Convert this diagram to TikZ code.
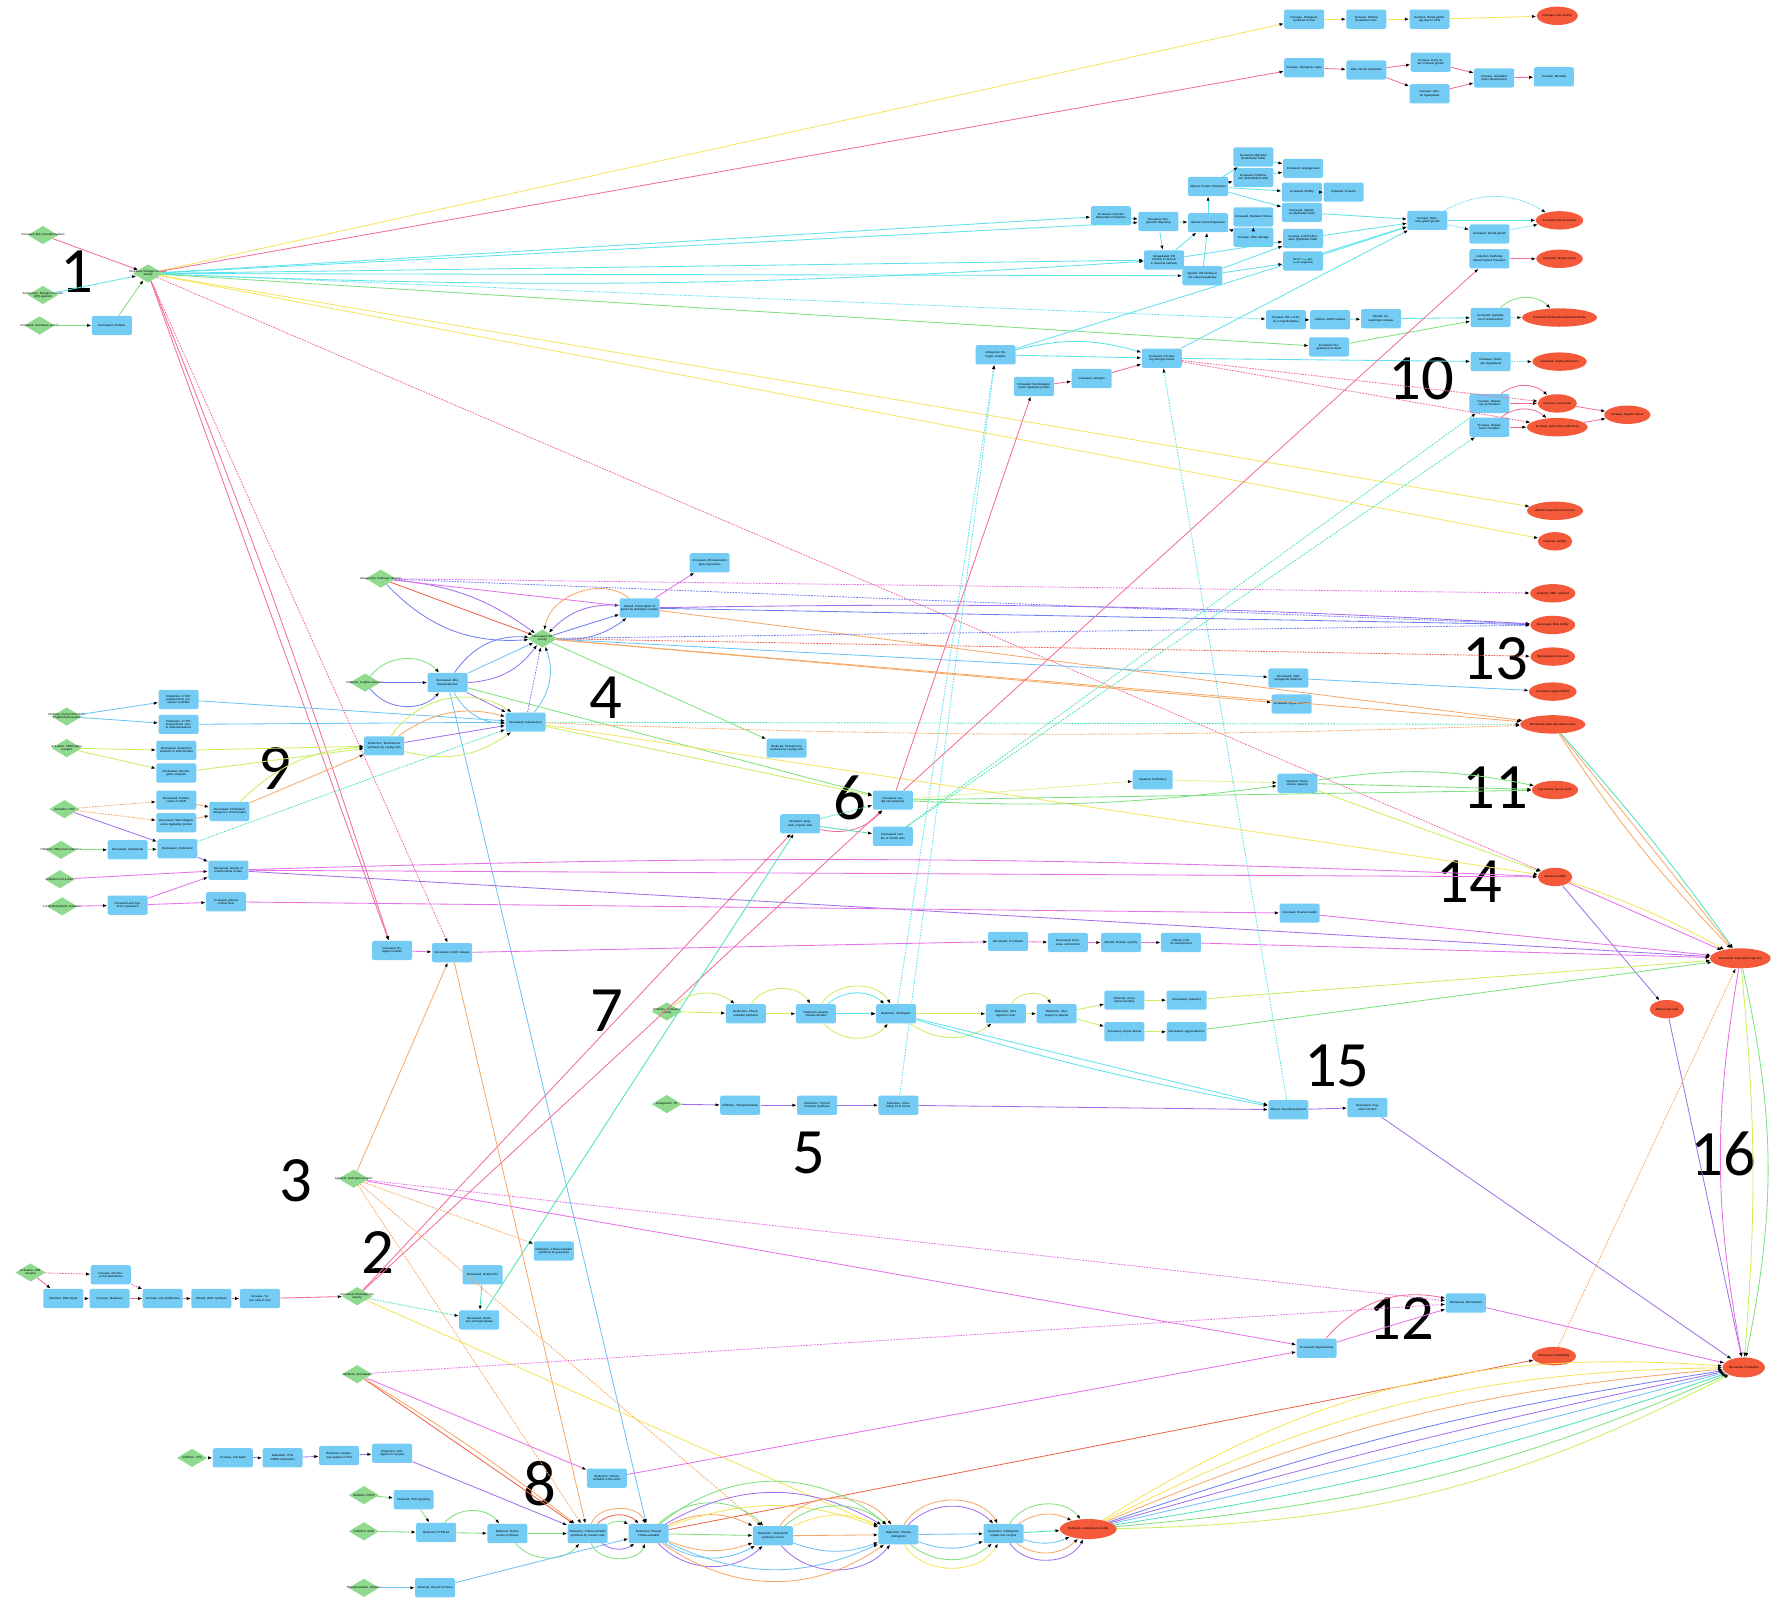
\documentclass[tikz,border=0pt]{standalone}
\usepackage{fontspec}
\setmainfont{Liberation Sans}
\newfontfamily\numfont{Carlito}
\usetikzlibrary{arrows.meta,shapes.geometric}
\usepackage{xcolor}
\definecolor{kefill}{HTML}{74CCF4}
\definecolor{miefill}{HTML}{8FDA8F}
\definecolor{aofill}{HTML}{F45A3A}
\definecolor{cy}{HTML}{5EE2EC}
\definecolor{pk}{HTML}{F26D9A}
\definecolor{ye}{HTML}{F5E45A}
\definecolor{gr}{HTML}{7FE07F}
\definecolor{mg}{HTML}{E770E8}
\definecolor{bl}{HTML}{6F7FF2}
\definecolor{pu}{HTML}{A070EC}
\definecolor{or}{HTML}{F7A866}
\definecolor{rd}{HTML}{F0644C}
\definecolor{lb}{HTML}{6CC3F7}
\definecolor{tl}{HTML}{4BE3B5}
\definecolor{yg}{HTML}{C7F060}
\newcommand{\lbl}{\fontsize{2.1}{2.4}\selectfont}
\tikzset{
  >={Latex[length=1.1mm,width=0.8mm,color=black]},
  lbl/.style={font=\lbl,align=center,inner sep=0pt},
  ke/.style={rectangle,rounded corners=0.5mm,fill=kefill,minimum width=10mm,
             minimum height=4.8mm,inner sep=0.2mm,align=center,text width=9.4mm,font=\lbl},
  mie/.style={diamond,fill=miefill,minimum width=7.6mm,minimum height=4.6mm,inner sep=0pt},
  ao/.style={ellipse,fill=aofill,minimum width=8.6mm,minimum height=4.6mm,inner sep=0pt,
             align=center,font=\lbl},
  aobig/.style={ao,minimum width=10mm,minimum height=5mm},
  rel/.style={->,line width=0.6pt},
  weak/.style={rel,dash pattern=on 1.2pt off 0.8pt},
  num/.style={font=\numfont\fontsize{46}{46}\selectfont,inner sep=0pt}
}

\begin{document}
\begin{tikzpicture}[x=0.2825mm,y=-0.2825mm]
  \useasboundingbox (0,0) rectangle (1568,1421);

  % estrogen receptor branch
  \node[mie,label={[lbl]center:Increased, Bcl-2 phosphorylation}] (m1a) at (38,208) {};
  \node[mie,label={[lbl]center:Antagonism, Estrogen receptor\\(ER) agonism}] (m1b) at (38,261) {};
  \node[mie,label={[lbl]center:Increased, Aromatase activity}] (m1c) at (35,288) {};
  \node[ke] (k1a) at (99,288) {Decreased, Proteins};
  \node[mie,label={[lbl]center:Increased, Estrogen receptor\\activity}] (k1) at (131,242) {};

  \node[ke] (kt1) at (1154,17) {Increase, Histogenic synthesis in liver};
  \node[ke] (kt2) at (1209,17) {Increase, Plasma cholesterol conc.};
  \node[ke] (kt3) at (1265,17) {Increase, Renal pathology due to CPN};
  \node[ao] (at1) at (1378,14) {Increase, Liver toxicity};

  \node[ke] (kp1) at (1154,60) {Increase, Histogenic steps};
  \node[ke] (kp2) at (1209,62) {Alter, Ductal maturation};
  \node[ke] (kp3) at (1266,55) {Increase, Early onset of breast growth};
  \node[ke] (kp4) at (1265,83) {Increase, lobular hyperplasia};
  \node[ke] (kp5) at (1322,69) {Increase, Glandular tumor development};
  \node[ke] (kp6) at (1375,68) {Increase, Mortality};

  \node[ke] (kc1) at (1109,139) {Increased, Migration (Endothelial Cells)};
  \node[ke] (kc2) at (1153,149) {Increased, Angiogenesis};
  \node[ke] (kc3) at (1109,157) {Increased, Proliferation (Endothelial Cells)};
  \node[ke] (kc4) at (1069,165) {Altered, Protein Production};
  \node[ke] (kc5) at (1152,170) {Increased, Motility};
  \node[ke] (kc6) at (1189,170) {Impaired, Invasion};
  \node[ke] (kc7) at (1152,188) {Increased, Apoptosis (Epithelial Cells)};
  \node[ke] (kc8) at (1109,192) {Increased, Oxidative Stress};
  \node[ke] (kc9) at (983,191) {Increased, Vascular Mesenteric Production};
  \node[ke] (kc10) at (1025,196) {Increased, Non-genomic Signaling};
  \node[ke] (kc11) at (1069,197) {Altered, Gene Expression};
  \node[ke] (kc12) at (1109,210) {Increase, DNA damage};
  \node[ke] (kc13) at (1153,211) {Increase, Cell Proliferation (Epithelial Cells)};
  \node[ke] (kc14) at (1030,230) {Upregulated, ER binding 17-beta-E in classical pathway};
  \node[ke] (kc15) at (1153,231) {Increased, prolactin response};
  \node[ke] (kc16) at (1064,244) {Agonist, ER binding in the classical pathway};
  \node[ke] (kc17) at (1263,195) {Increase, Mammary gland growth};
  \node[ao] (ac1) at (1380,195) {Increased, Breast Cancer};
  \node[ke] (kc18) at (1318,207) {Increased, Ductal growth};
  \node[ke] (kc19) at (1318,229) {Induction, Epithelial Mesenchymal Transition};
  \node[ao] (ac2) at (1380,229) {Increased, Breast cancer};

  \node[ke] (kd1) at (1138,283) {Increase, ER-1 activity in hypothalamus};
  \node[ke] (kd2) at (1177,283) {Altered, GnRH release};
  \node[ke] (kd3) at (1222,282) {Altered, Gonadotropin release};
  \node[ke] (kd4) at (1319,281) {Increased, hyperplasia of endometrium};
  \node[ao] (ad1) at (1380,281) {Increased, Endometrial adenocarcinoma};
  \node[ke] (kd5) at (1176,307) {Increased, Progesterone receptor};
  \node[ke] (kd6) at (881,314) {Antagonist, Estrogen receptor};
  \node[ke] (kd7) at (1028,317) {Increased, Circulating estrogen levels};
  \node[ke] (kd8) at (915,342) {Increased, Steroidogenic acute regulatory protein};
  \node[ke] (kd9) at (966,335) {Increased, estrogen};
  \node[ke] (kd10) at (1319,320) {Increased, Testicular hyperplasia};
  \node[ao] (ad2) at (1380,320) {Increased, Leydig cell tumors};
  \node[ke] (kd11) at (1318,357) {Increase, Hepatocyte proliferation};
  \node[ke] (kd12) at (1318,378) {Increase, Hepatic tumor formation};
  \node[ao] (ad3) at (1378,357) {Increase, Liver tumor};
  \node[ao] (ad4) at (1378,378) {Increase, Liver tumor (adenoma)};
  \node[ao] (ad5) at (1440,367) {Increase, Hepatic cancer};
  \node[ao] (ad6) at (1376,452) {Altered, Reproductive function};
  \node[ao] (ad7) at (1376,479) {Impaired, Fertility};

  % androgen receptor branch
  \node[mie,label={[lbl]center:Antagonism, Androgen receptor}] (m4a) at (337,512) {};
  \node[mie,label={[lbl]center:Decreased, AR\\activity}] (k4c) at (480,565) {};
  \node[ke] (k4t) at (566,538) {Altered, Transcription of genes by androgen receptor};
  \node[ke] (k4u) at (628,498) {Increased, AR-dependent gene expression};
  \node[mie,label={[lbl]center:Inhibition, 5-alpha reductase}] (m4b) at (323,604) {};
  \node[ke] (k4b) at (396,604) {Decreased, dihydrotestosterone};
  \node[ke] (k4m) at (465,639) {Decreased, testosterone};
  \node[ao] (a4a) at (1374,525) {Impaired, PMC, reduced};
  \node[ao] (a4b) at (1374,553) {Decreased, Male fertility};
  \node[ao] (a4c) at (1374,581) {Hypospadias, increased};
  \node[ao] (a4d) at (1374,612) {Increased, cryptorchidism};
  \node[ao] (a4e) at (1374,641) {Decreased, Male reproductive tract};
  \node[ke] (k4r1) at (1140,600) {Decreased, AGD (anogenital distance)};
  \node[ke] (k4r2) at (1143,623) {Increased, Nipple retention};
  \node[ke] (k4s) at (696,662) {Reduced, Testosterone synthesis by Leydig cells};

  \node[mie,label={[lbl]center:Inhibition, Cytochrome P450\\17alpha-hydroxylase}] (m9a) at (59,634) {};
  \node[ke] (k9a) at (158,619) {Reduction, 17-OH pregnenolone conversion to DHEA};
  \node[ke] (k9b) at (158,641) {Reduction, 17-OH progesterone conv. to androstenedione};
  \node[mie,label={[lbl]center:Activation, PPAR-alpha\\receptor}] (m9b) at (59,662) {};
  \node[ke] (k9c) at (156,664) {Decreased, cholesterol transport in mitochondria};
  \node[ke] (k9d) at (156,684) {Decreased, steroidogenic enzymes};
  \node[mie,label={[lbl]center:Activation, PXR}] (m9c) at (57,716) {};
  \node[ke] (k9e) at (156,708) {Decreased, Translocation of StAR};
  \node[ke] (k9f) at (156,728) {Decreased, Steroidogenic acute regulatory protein};
  \node[ke] (k9g) at (203,718) {Decreased, Cholesterol transport in mitochondria};
  \node[ke] (k9h) at (340,660) {Reduction, Testosterone synthesis by Leydig cells};
  \node[mie,label={[lbl]center:Inhibition, HMG-CoA reductase}] (m9d) at (54,752) {};
  \node[ke] (k9i) at (113,752) {Decreased, mevalonate};
  \node[ke] (k9j) at (157,751) {Decreased, cholesterol};
  \node[ke] (k9k) at (202,770) {Decreased, density of mitochondrial cristae};
  \node[mie,label={[lbl]center:Inhibition of 2,4-dien}] (m9e) at (53,778) {};
  \node[ke] (k9l) at (200,798) {Increased, plasma cortisol level};
  \node[mie,label={[lbl]center:2,4-dichlorophenol, activation}] (m9f) at (55,802) {};
  \node[ke] (k9m) at (113,801) {Increased and Cyp-11A1 expression};

  \node[ke] (k6a) at (790,708) {Increased, Leydig cell apoptosis};
  \node[ke] (k6b) at (708,729) {Increased, apoptosis of germ cells};
  \node[ke] (k6c) at (790,740) {Decreased, number of Sertoli cells};
  \node[ke] (k6d) at (1020,690) {Impaired, fertilization};
  \node[ke] (k6e) at (1148,693) {Impaired, Reproductive capacity};
  \node[ao] (a6a) at (1376,699) {Decreased, Sperm count};
  \node[ao] (a14) at (1376,776) {Impaired, fertility};
  \node[ke] (k14) at (1150,808) {Increased, Ovarian weight};
  \node[aobig] (aB1) at (1540,848) {Decreased, Population trajectory};

  % estradiol and vitellogenin lines
  \node[ke] (k8a) at (347,841) {Increased, Estrogen receptor};
  \node[ke] (k8b) at (400,843) {Decreased, GnRH release};
  \node[ke] (k8c) at (892,833) {Decreased, LH release};
  \node[ke] (k8d) at (945,834) {Decreased, Granulosa cell function};
  \node[ke] (k8e) at (992,834) {Altered, Ovarian cyclicity};
  \node[ke] (k8f) at (1045,834) {Altered, Follicle development};

  \node[mie,label={[lbl]center:Inhibition, Aromatase\\activity}] (m7) at (590,895) {};
  \node[ke] (k7a) at (660,897) {Reduction, 17beta-estradiol synthesis};
  \node[ke] (k7b) at (722,897) {Reduction, plasma 17beta-estradiol};
  \node[ke] (k7c) at (793,897) {Reduction, Vitellogenin};
  \node[ke] (k7d) at (890,897) {Reduction, Vitellogenin in liver};
  \node[ke] (k7e) at (935,897) {Reduction, Vitellogenin in plasma};
  \node[ke] (k7f) at (995,885) {Reduced, cumulative fecundity};
  \node[ke] (k7g) at (1050,885) {Decreased, spawning};
  \node[ke] (k7h) at (995,913) {Increased, oocyte atresia};
  \node[ke] (k7i) at (1050,913) {Decreased, egg production};
  \node[ao] (a16) at (1475,893) {Altered, Sex ratio};

  \node[mie,label={[lbl]center:Antagonism, TR}] (m5) at (590,977) {};
  \node[ke] (k5a) at (655,978) {Inhibition, Thyroperoxidase};
  \node[ke] (k5b) at (723,978) {Reduction, Thyroid hormone synthesis};
  \node[ke] (k5c) at (795,978) {Reduction, Circulating T4 in serum};
  \node[ke] (k5d) at (1140,982) {Altered, Neurodevelopment};
  \node[ke] (k5e) at (1210,980) {Decreased, Cognitive function};

  % lower left
  \node[mie,label={[lbl]center:Agonism, Androgen receptor}] (m3) at (313,1043) {};
  \node[ke] (k3a) at (490,1107) {Reduction, 17beta-estradiol synthesis by granulosa};
  \node[mie,label={[lbl]center:Activation, AhR\\receptor}] (m2z) at (27,1126) {};
  \node[ke] (k2a) at (98,1128) {Increase, Chromosomal aberrations};
  \node[ke] (k2b) at (56,1149) {Induction, DNA repair};
  \node[ke] (k2c) at (97,1149) {Increase, Mutations};
  \node[ke] (k2d) at (144,1149) {Increase, cell proliferation};
  \node[ke] (k2e) at (187,1149) {Altered, DNA synthesis};
  \node[ke] (k2f) at (230,1149) {Increase, Tumor cells in liver};
  \node[mie,label={[lbl]center:Increased, Cholangiocyte\\activity}] (m2) at (316,1147) {};
  \node[ke] (k2g) at (427,1128) {Decreased, Ovarian E2};
  \node[ke] (k2h) at (424,1168) {Decreased, Ovulation and hyperplasia};
  \node[mie,label={[lbl]center:Inhibition, Aromatase}] (m12) at (316,1216) {};
  \node[ke] (k12a) at (1165,1193) {Increased, Hepatotoxicity};
  \node[ke] (k12b) at (1297,1153) {Decreased, Recruitment};
  \node[ao] (a12) at (1375,1200) {Decreased, Hatchability};
  \node[aobig] (aB2) at (1543,1210) {Decreased, Population};

  \node[mie,label={[lbl]center:Inhibition, VTG}] (m8a) at (170,1290) {};
  \node[ke] (k8g) at (206,1290) {Increase, cell death};
  \node[ke] (k8h) at (250,1290) {Reduction, VTG mRNA expression};
  \node[ke] (k8i) at (300,1288) {Reduction, hepatocyte uptake of VTG};
  \node[ke] (k8j) at (347,1286) {Reduction, vitellogenin in oocytes};
  \node[ke] (k8k) at (537,1308) {Reduction, 17beta-estradiol in the ovary};
  \node[mie,label={[lbl]center:Inhibition, FSHR}] (m8b) at (322,1323) {};
  \node[ke] (k8l) at (366,1327) {Reduced, FSH signaling};
  \node[mie,label={[lbl]center:Inhibition, StAR}] (m8c) at (322,1355) {};
  \node[ke] (k8m) at (386,1356) {Reduced, CYP11A1};
  \node[ke] (k8n) at (449,1357) {Reduced, Testosterone synthesis};
  \node[ke] (k8o) at (520,1357) {Reduction, 17beta-estradiol synthesis by ovarian cells};
  \node[ke] (k8p) at (574,1357) {Reduction, Plasma 17beta-estradiol};
  \node[ke] (k8q) at (684,1359) {Reduction, Vitellogenin synthesis in liver};
  \node[ke] (k8r) at (795,1358) {Reduction, Plasma vitellogenin};
  \node[ke] (k8s) at (888,1357) {Reduction, Vitellogenin uptake into oocytes};
  \node[aobig] (a8) at (963,1353) {Reduced, cumulative fecundity};
  \node[mie,label={[lbl]center:Thyroperoxidase, inhibition}] (m8d) at (322,1405) {};
  \node[ke] (k8t) at (385,1405) {Reduced, thyroid hormone};

  % numbers
  \node[num] at (68,240) {1};
  \node[num] at (334,1108) {2};
  \node[num] at (262,1045) {3};
  \node[num] at (536,617) {4};
  \node[num] at (716,1020) {5};
  \node[num] at (752,706) {6};
  \node[num] at (537,894) {7};
  \node[num] at (478,1313) {8};
  \node[num] at (243,680) {9};
  \node[num] at (1258,335) {10};
  \node[num] at (1323,697) {11};
  \node[num] at (1240,1167) {12};
  \node[num] at (1323,583) {13};
  \node[num] at (1300,780) {14};
  \node[num] at (1183,943) {15};
  \node[num] at (1525,1021) {16};

  % relationships, branch 1
  \draw[rel,pk] (m1a)--(k1);
  \draw[rel,cy] (m1b)--(k1);
  \draw[rel,gr] (m1c)--(k1a);
  \draw[rel,gr] (k1a)--(k1);
  \draw[rel,ye] (k1)--(kt1);
  \foreach \a/\b in {kt1/kt2,kt2/kt3,kt3/at1} \draw[rel,ye] (\a)--(\b);
  \draw[rel,pk] (k1)--(kp1);
  \foreach \a/\b in {kp1/kp2,kp2/kp3,kp2/kp4,kp3/kp5,kp4/kp5,kp5/kp6} \draw[rel,pk] (\a)--(\b);
  \foreach \b in {kc9,kc10,kc14,kc16} \draw[rel,cy] (k1)--(\b);
  \draw[rel,cy] (k1) to[bend right=3] (kc14);
  \draw[weak,cy] (k1)--(kd1);
  \draw[rel,gr] (k1)--(kd5);
  \draw[rel,ye] (k1)--(ad6);
  \draw[rel,ye] (k1)--(ad7);
  \draw[weak,pk] (k1)--(a14);
  \draw[rel,pk] (k1)--(k8a);
  \draw[rel,pk] (k1) to[bend left=2] (k8a);
  \draw[weak,pk] (k1)--(k8b);
  \foreach \a/\b in {kc9/kc10,kc10/kc11,kc10/kc14,kc14/kc11,kc16/kc11,kc11/kc4,kc12/kc8,
    kc12/kc11,kc4/kc1,kc4/kc3,kc1/kc2,kc3/kc2,kc4/kc5,kc5/kc6,kc4/kc7,kc7/kc17,kc14/kc13,
    kc16/kc13,kc13/kc17,kc16/kc15,kc15/kc17,kc17/ac1,kd6/kc17,kd6/kd7,kd7/kd10,
    kd1/kd2,kd2/kd3,kd3/kd4,kd7/kc17}
    \draw[rel,cy] (\a)--(\b);
  \draw[weak,cy] (kc17)--(kc18);
  \draw[weak,cy] (kc18)--(ac1);
  \draw[weak,cy] (kc17) to[bend left=30] (ac1);
  \draw[rel,cy] (kd6) to[bend left=15] (kd7);
  \draw[weak,cy] (kd10)--(ad2);
  \draw[weak,cy] (kd4)--(ad1);
  \draw[rel,gr] (kd4) to[bend left=45] (ad1);
  \draw[rel,gr] (kd5)--(kd4);
  \draw[rel,pk] (kc19)--(ac2);
  \draw[rel,pk] (kd8)--(kd9);
  \draw[rel,pk] (kd9)--(kd7);
  \draw[weak,pk] (kd7)--(ad3);
  \draw[weak,pk] (kd7)--(ad4);
  \draw[rel,pk] (kd11)--(ad3);
  \draw[rel,pk] (kd12)--(ad4);
  \draw[rel,pk] (ad3)--(ad5);
  \draw[rel,pk] (ad4)--(ad5);
  \draw[rel,pk] (kd11) to[bend left=40] (ad3);
  \draw[rel,pk] (kd12) to[bend left=40] (ad4);
  \draw[weak,cy] (k7c)--(kd6);
  \draw[weak,cy] (k5c)--(kd6);
  \draw[weak,cy] (k5d)--(kd7);

  % relationships, branch 4 and 9
  \draw[rel,rd] (m4a)--(k4c);
  \draw[rel,pu] (m4a) to[bend left=15] (k4c);
  \draw[rel,bl] (m4a) to[bend right=25] (k4c);
  \draw[rel,mg] (m4a)--(k4t);
  \draw[weak,mg] (m4a)--(a4a);
  \draw[weak,bl] (m4a)--(a4b);
  \draw[rel,mg] (k4t)--(k4u);
  \draw[rel,bl] (k4c)--(k4t);
  \draw[rel,or] (k4t) to[bend right=60] (k4c);
  \draw[rel,pu] (k4t) to[bend right=25] (k4c);
  \draw[rel,bl] (k4c) to[bend right=20] (k4t);
  \draw[rel,bl] (k4t)--(a4b);
  \draw[rel,pu] (k4t) to[bend left=2] (a4b);
  \draw[rel,or] (k4t)--(a4e);
  \draw[weak,bl] (k4c)--(a4b);
  \draw[weak,rd] (k4c)--(a4c);
  \draw[rel,lb] (k4c)--(k4r1);
  \draw[rel,or] (k4c)--(k4r2);
  \draw[rel,or] (k4c)--(a4e);
  \draw[rel,gr] (k4c)--(k4s);
  \draw[rel,lb] (k4r1)--(a4d);
  \draw[rel,bl] (m4b)--(k4b);
  \draw[rel,gr] (m4b) to[bend left=50] (k4b);
  \draw[rel,bl] (m4b) to[bend right=50] (k4b);
  \draw[rel,bl] (k4b) to[bend left=30] (k4c);
  \draw[rel,lb] (k4b)--(k4c);
  \draw[rel,pu] (k4b) to[bend right=25] (k4c);
  \draw[rel,pu] (k4b)--(k4m);
  \draw[weak,pu] (k4m)--(k4c);
  \draw[rel,lb] (k4m) to[bend right=30] (k4c);
  \draw[rel,lb] (k4b) to[bend right=30] (k4m);
  \draw[rel,gr] (k4b)--(k6a);
  \draw[rel,lb] (k4b)--(k8p);
  \draw[weak,tl] (k4m)--(a4e);
  \draw[weak,or] (k4m) to[bend right=2] (a4e);
  \draw[rel,ye] (k4m)--(a14);
  \draw[rel,yg] (k4m)--(k6a);
  \draw[rel,lb] (m9a)--(k9a);
  \draw[rel,lb] (m9a)--(k9b);
  \draw[rel,lb] (k9a)--(k4m);
  \draw[rel,lb] (k9b)--(k4m);
  \draw[rel,yg] (m9b)--(k9c);
  \draw[rel,yg] (m9b)--(k9d);
  \draw[rel,yg] (k9c)--(k9h);
  \draw[rel,yg] (k9d)--(k9h);
  \draw[weak,or] (m9c)--(k9e);
  \draw[weak,or] (m9c)--(k9f);
  \draw[rel,or] (k9e)--(k9g);
  \draw[rel,or] (k9f)--(k9g);
  \draw[rel,or] (k9g)--(k9h);
  \draw[rel,yg] (k9g) to[bend left=20] (k9h);
  \draw[rel,pu] (k9h)--(k4m);
  \draw[rel,yg] (k9h) to[bend left=45] (k4m);
  \draw[rel,yg] (k9h) to[bend right=25] (k4m);
  \draw[rel,or] (k9h) to[bend left=25] (k4m);
  \draw[rel,pu] (m9c)--(k9j);
  \draw[rel,gr] (m9d)--(k9i);
  \draw[rel,gr] (k9i)--(k9j);
  \draw[weak,tl] (k9j)--(k4m);
  \draw[rel,pu] (k9j)--(k9k);
  \draw[rel,mg] (m9e)--(k9k);
  \draw[rel,mg] (m9f)--(k9m);
  \draw[rel,mg] (k9m)--(k9k);
  \draw[rel,mg] (k9m)--(k9l);
  \draw[rel,mg] (k9k)--(a14);
  \draw[rel,mg] (k9k) to[bend left=2] (a14);
  \draw[rel,pu] (k9k)--(aB1);
  \draw[rel,mg] (k9l)--(k14);

  % relationships, branch 6
  \draw[weak,tl] (k6b)--(k6a);
  \draw[rel,pk] (k6b) to[bend right=30] (k6a);
  \draw[rel,tl] (k6b)--(k6c);
  \draw[weak,yg] (k6a)--(k6d);
  \draw[weak,yg] (k6d)--(k6e);
  \draw[rel,gr] (k6a) to[bend right=5] (k6e);
  \draw[rel,gr] (k6a)--(a6a);
  \draw[rel,gr] (k6e)--(a6a);
  \draw[rel,gr] (k6e) to[bend left=10] (a6a);
  \draw[rel,yg] (k6e)--(a14);
  \draw[rel,pk] (k6a)--(kc19);
  \draw[rel,pk] (k6a)--(kd8);
  \draw[weak,tl] (k6c)--(kd11);
  \draw[weak,tl] (k6c)--(kd12);
  \draw[rel,pk] (m2)--(k6b);
  \draw[rel,pk] (m2)--(k6a);
  \draw[rel,tl] (k2h)--(k6b);
  \draw[rel,mg] (a14)--(aB1);
  \draw[rel,ye] (a14) to[bend left=5] (aB1);
  \draw[rel,pu] (a14)--(a16);
  \draw[rel,pu] (a16)--(aB2);
  \draw[rel,or] (a4e)--(aB1);
  \draw[rel,tl] (a4e) to[bend left=3] (aB1);
  \draw[rel,or] (a4e) to[bend right=5] (aB1);
  \draw[rel,mg] (aB1) to[bend right=10] (aB2);
  \draw[rel,yg] (aB1) to[bend left=5] (aB2);
  \draw[rel,gr] (aB1) to[bend left=12] (aB2);
  \draw[rel,mg] (k14)--(aB1);

  % relationships, branches 7, 5 and 841 row
  \foreach \a/\b in {k8a/k8b,k8b/k8c,k8c/k8d,k8d/k8e,k8e/k8f,k8f/aB1} \draw[rel,mg] (\a)--(\b);
  \foreach \a/\b in {m7/k7a,k7a/k7b,k7b/k7c,k7c/k7d,k7d/k7e,k7e/k7f,k7e/k7h,k7f/k7g,k7h/k7i}
    \draw[rel,yg] (\a)--(\b);
  \draw[rel,yg] (m7) to[bend left=40] (k7a);
  \draw[rel,yg] (k7a) to[bend left=60] (k7b);
  \draw[rel,yg] (k7b) to[bend left=60] (k7c);
  \draw[rel,cy] (k7b) to[bend left=40] (k7c);
  \draw[rel,yg] (k7b) to[bend right=50] (k7c);
  \draw[rel,cy] (k7b)--(k7c);
  \draw[rel,yg] (k7c) to[bend right=35] (k7d);
  \draw[rel,yg] (k7d) to[bend left=60] (k7e);
  \draw[rel,cy] (k7c)--(k5d);
  \draw[rel,cy] (k7c) to[bend right=3] (k5d);
  \draw[rel,yg] (k7g)--(aB1);
  \draw[rel,gr] (k7i)--(aB1);
  \foreach \a/\b in {m5/k5a,k5a/k5b,k5b/k5c,k5c/k5d,k5d/k5e,k5e/aB2} \draw[rel,pu] (\a)--(\b);

  % relationships, lower part
  \draw[rel,or] (m3)--(k8b);
  \draw[weak,or] (m3)--(k3a);
  \draw[rel,mg] (m3)--(k12a);
  \draw[weak,mg] (m3)--(k12b);
  \draw[weak,or] (m3)--(k8q);
  \draw[weak,or] (m3)--(k8o);
  \draw[rel,or] (k8b)--(k8o);
  \draw[weak,pk] (m2z)--(k2a);
  \draw[rel,pk] (m2z)--(k2b);
  \foreach \a/\b in {k2b/k2c,k2c/k2d,k2d/k2e,k2e/k2f,k2f/m2} \draw[rel,pk] (\a)--(\b);
  \draw[weak,pk] (k2a)--(k2d);
  \draw[weak,tl] (m2)--(k2h);
  \draw[rel,ye] (m2)--(k8r);
  \draw[rel,tl] (k2g)--(k2h);
  \draw[rel,rd] (m12)--(k8o);
  \draw[rel,or] (m12) to[bend left=3] (k8o);
  \draw[rel,mg] (m12)--(k8k);
  \draw[weak,mg] (m12)--(k12b);
  \draw[rel,mg] (k8k)--(k12a);
  \draw[rel,mg] (k12a)--(k12b);
  \draw[rel,pk] (k12a) to[bend left=30] (k12b);
  \draw[rel,mg] (k12b)--(aB2);
  \draw[rel,rd] (k8p)--(a12);
  \draw[weak,or] (a12)--(aB1);
  \foreach \a/\b in {m8a/k8g,k8g/k8h,k8h/k8i,k8i/k8j,k8j/k8o} \draw[rel,pu] (\a)--(\b);
  \draw[rel,gr] (m8b)--(k8l);
  \draw[rel,gr] (k8l)--(k8m);
  \draw[rel,gr] (m8c)--(k8m);
  \draw[rel,gr] (k8m)--(k8n);
  \draw[rel,gr] (k8m) to[bend left=50] (k8n);
  \draw[rel,gr] (k8n)--(k8o);
  \draw[rel,gr] (k8n) to[bend right=50] (k8o);
  \draw[rel,lb] (m8d)--(k8t);
  \draw[rel,lb] (k8t)--(k8p);
  \foreach \c/\b in {or/70,rd/45,gr/25,pu/-35,gr/-70} \draw[rel,\c] (k8o) to[bend left=\b] (k8p);
  \draw[rel,gr] (k8p)--(k8q);
  \foreach \c/\b in {gr/45,or/25,or/-20,pu/-45,lb/-30} \draw[rel,\c] (k8p) to[bend left=\b] (k8q);
  \foreach \c/\b in {gr/40,pu/30,or/-35,lb/-25,ye/20} \draw[rel,\c] (k8p) to[bend left=\b] (k8r);
  \draw[rel,or] (k8q)--(k8r);
  \foreach \c/\b in {or/55,gr/40,ye/25,pu/-50,lb/-20} \draw[rel,\c] (k8q) to[bend left=\b] (k8r);
  \draw[rel,lb] (k8r)--(k8s);
  \foreach \c/\b in {or/60,pu/45,ye/-60,gr/-40,lb/-20} \draw[rel,\c] (k8r) to[bend left=\b] (k8s);
  \draw[rel,tl] (k8s)--(a8);
  \foreach \c/\b in {gr/55,or/30,lb/-20,or/-40,pu/-60} \draw[rel,\c] (k8s) to[bend left=\b] (a8);
  \foreach \c/\b in {ye/18,ye/13,or/9,bl/5,pu/2,lb/-1,tl/-5,gr/-9,yg/-13}
    \draw[rel,\c] (a8) to[bend left=\b] (aB2);
\end{tikzpicture}
\end{document}
